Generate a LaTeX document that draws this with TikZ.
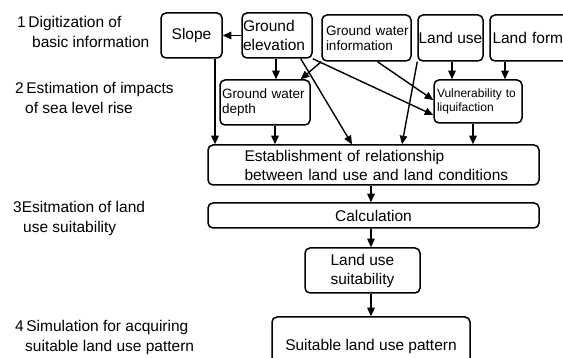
\documentclass[tikz,border=0pt]{standalone}
\usepackage{fontspec}
\setmainfont{Liberation Sans}
\usetikzlibrary{arrows.meta,calc}
\begin{document}
\begin{tikzpicture}[x=1pt,y=-1pt,
  box/.style={draw, line width=1.5pt, rounded corners=5pt, inner sep=0pt, align=center, font=\fontsize{15.5}{19}\selectfont},
  smallbox/.style={box, align=left, font=\fontsize{13.5}{15.5}\selectfont},
  arr/.style={-{Triangle[length=8.5pt,width=7.5pt]}, line width=1.4pt},
  lbl/.style={anchor=west, align=left, inner sep=0pt, font=\fontsize{15.5}{20}\selectfont}]
\useasboundingbox (0,0) rectangle (563,358);
% left labels
\node[lbl] (l1) at (17,31.5) {1\,Digitization of\\\hspace*{15pt}basic information};
\node[lbl] (l2) at (15,97.5) {2\,Estimation of impacts\\\hspace*{10pt}of sea level rise};
\node[lbl] (l3) at (13,218) {3Esitmation of land\\\hspace*{10pt}use suitability};
\node[lbl] (l4) at (15,337) {4\,Simulation for acquiring\\\hspace*{10pt}suitable land use pattern};
% boxes
\node[box, minimum width=61pt, minimum height=45pt] (slope) at (191.5,35.5) {Slope};
\node[box, minimum width=70pt, minimum height=45pt, align=left, text width=68pt] (gelev) at (277,35.5) {Ground\\elevation};
\node[smallbox, minimum width=89pt, minimum height=46pt, text width=87pt] (gwi) at (366.5,38) {\hspace*{3pt}Ground water\\\hspace*{3pt}information};
\node[box, minimum width=65pt, minimum height=46pt] (luse) at (450.5,38) {Land use};
\node[box, minimum width=85pt, minimum height=46pt, text width=80pt, align=left] (lform) at (532.5,38) {Land form};
\node[smallbox, minimum width=90pt, minimum height=45pt, text width=86pt] (gwd) at (265,102.5) {Ground water\\depth};
\node[box, minimum width=88pt, minimum height=43pt, text width=82pt, align=left, font=\fontsize{12}{14}\selectfont] (vuln) at (478,101.5) {Vulnerability to\\liquifaction};
\node[box, minimum width=331pt, minimum height=40pt, text width=300pt, align=left] (estab) at (373.5,165) {\hspace*{21pt}Establishment of relationship\\\hspace*{21pt}between land use and land conditions};
\node[box, minimum width=331pt, minimum height=25pt] (calc) at (373.5,215.5) {Calculation};
\node[box, minimum width=115pt, minimum height=45pt] (lus) at (362.5,270.5) {Land use\\suitability};
\node[box, minimum width=198pt, minimum height=58pt] (slup) at (371,346) {Suitable land use pattern};
% connectors
\draw[arr] (gelev.west) -- (slope.east);
\draw[arr] (slope.south -| 215,0) -- (estab.north -| 215,0);
\draw[arr] (gelev.south -| 276,0) -- (gwd.north -| 276,0);
\draw[arr] (gwd.south -| 275,0) -- (estab.north -| 275,0);
\draw[arr] (gwi.south west) -- ($(gwd.north east)+(-10,0)$);
\draw[arr] ($(gelev.south east)+(-12,0)$) -- (estab.north -| 352,0);
\draw[arr] (gelev.south east) -- (vuln.west |- 0,115);
\draw[arr] ($(gwi.south)+(11,0)$) -- (vuln.west |- 0,100);
\draw[arr] (luse.south west) -- (estab.north -| 402,0);
\draw[arr] (luse.south -| 452,0) -- (vuln.north -| 452,0);
\draw[arr] (lform.south -| 505,0) -- (vuln.north -| 505,0);
\draw[arr] (vuln.south -| 473,0) -- (estab.north -| 473,0);
\draw[arr] (estab.south -| 371,0) -- (calc.north -| 371,0);
\draw[arr] (calc.south -| 371,0) -- (lus.north -| 371,0);
\draw[arr] (lus.south -| 371,0) -- (slup.north -| 371,0);
\end{tikzpicture}
\end{document}
